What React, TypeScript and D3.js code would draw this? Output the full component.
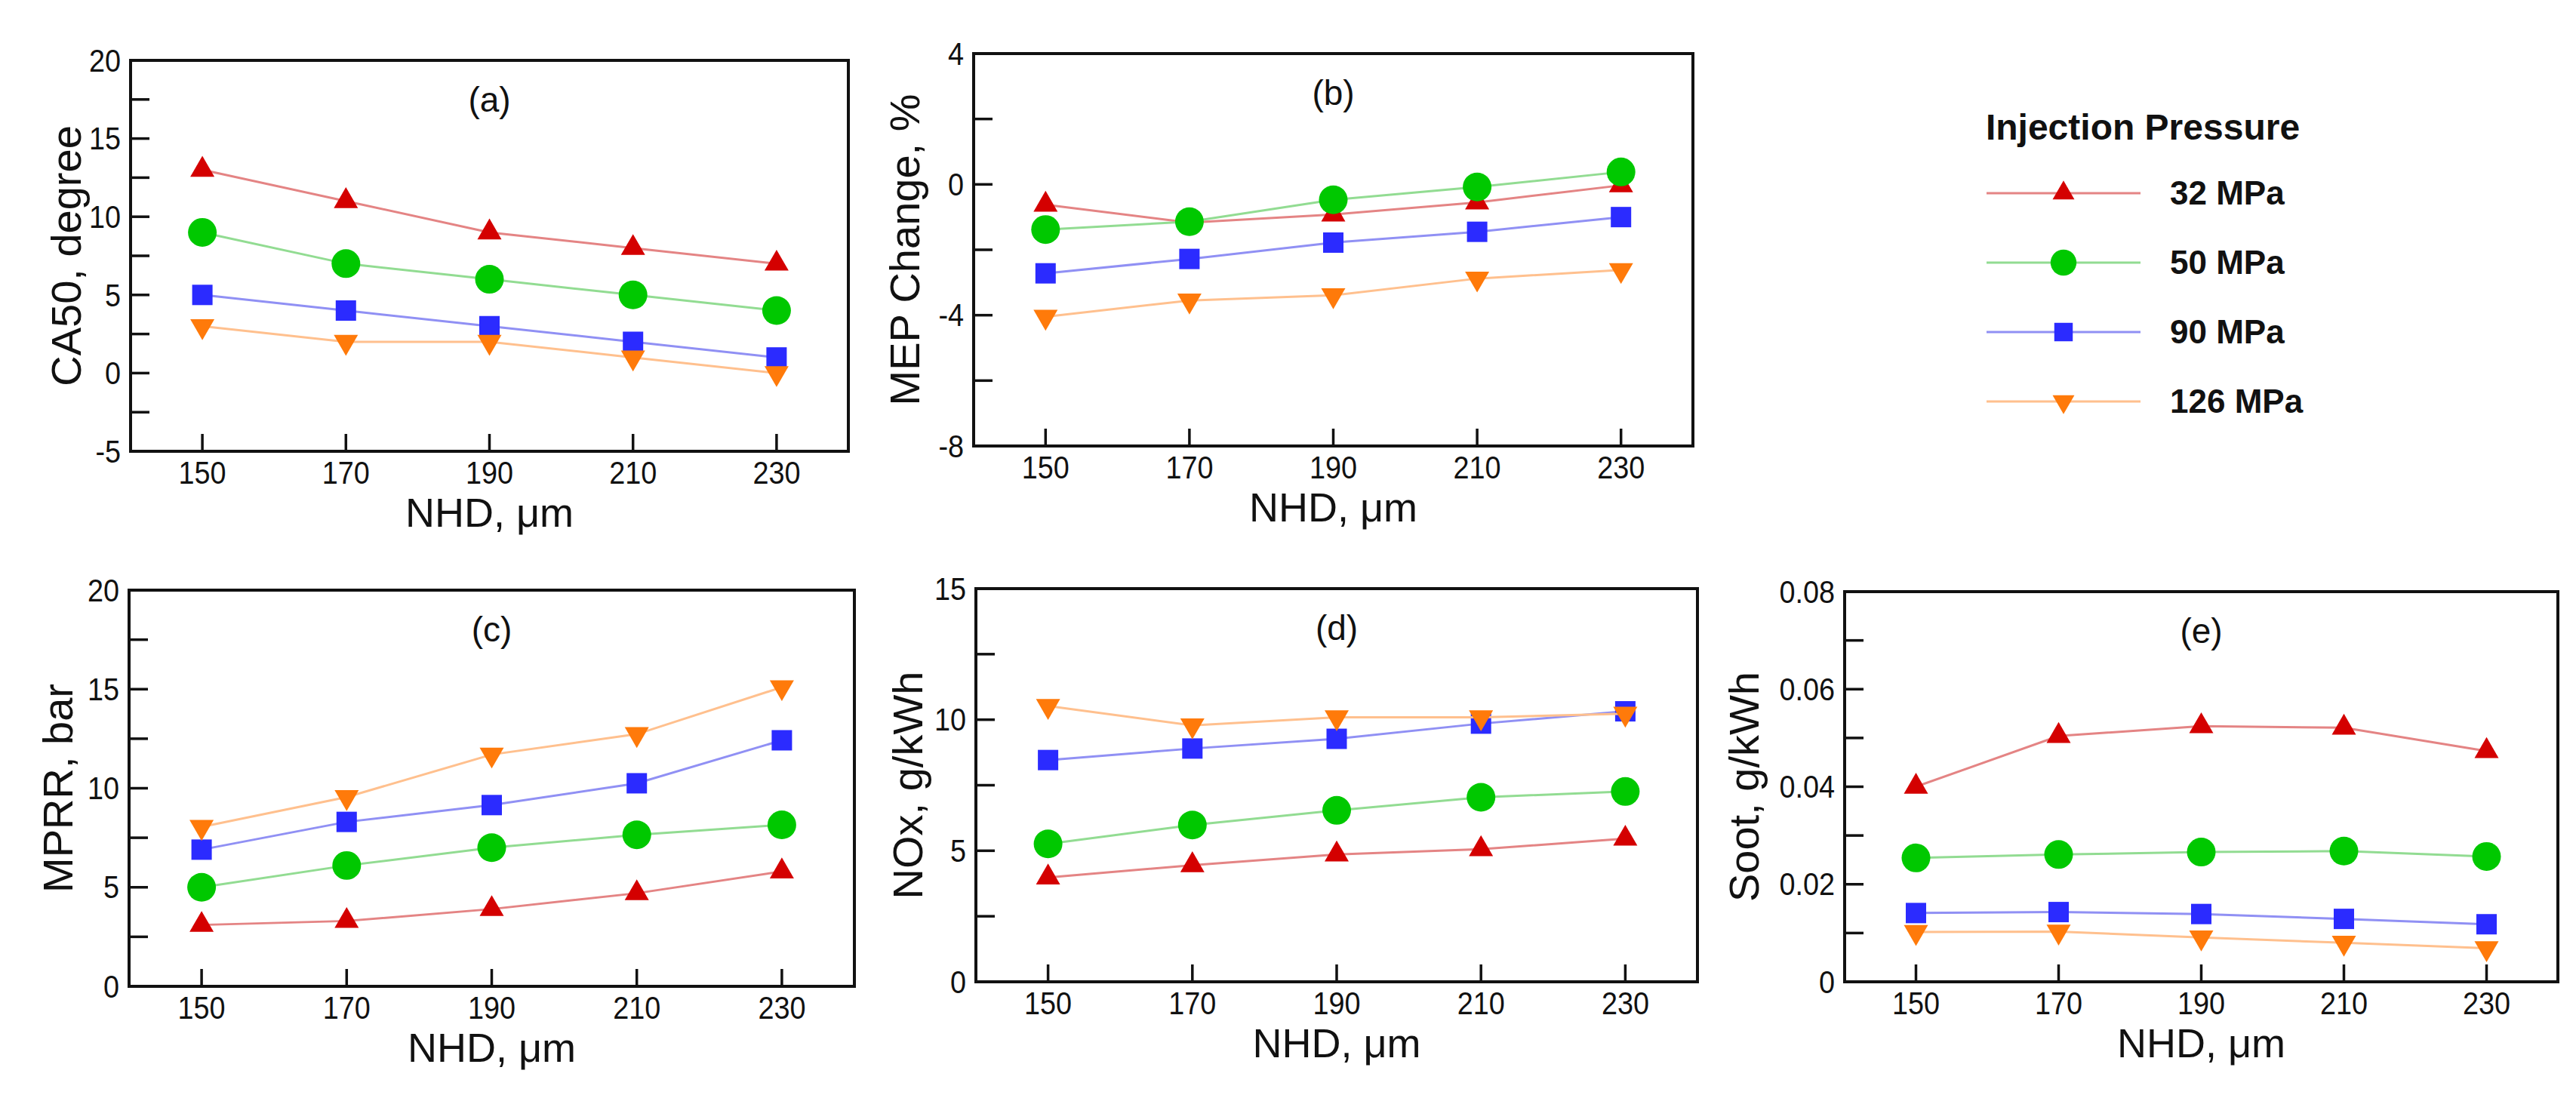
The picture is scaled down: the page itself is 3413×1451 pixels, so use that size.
import * as d3 from 'd3';

// NHD (nozzle hole diameter) positions, µm
const nhd = [150, 170, 190, 210, 230];
const pressures = ['32 MPa', '50 MPa', '90 MPa', '126 MPa'];

// values per pressure: 32, 50, 90, 126 MPa
const ca50Values = [
  [13, 11, 9, 8, 7],
  [9, 7, 6, 5, 4],
  [5, 4, 3, 2, 1],
  [3, 2, 2, 1, 0],
];
const mepValues = [
  [-0.62, -1.17, -0.92, -0.55, -0.03],
  [-1.38, -1.14, -0.47, -0.08, 0.38],
  [-2.72, -2.28, -1.78, -1.45, -1.0],
  [-4.05, -3.55, -3.39, -2.88, -2.62],
];
const mprrValues = [
  [3.1, 3.3, 3.9, 4.7, 5.8],
  [5.0, 6.1, 7.0, 7.65, 8.15],
  [6.9, 8.3, 9.15, 10.25, 12.42],
  [8.05, 9.55, 11.7, 12.73, 15.1],
];
const noxValues = [
  [3.98, 4.45, 4.86, 5.06, 5.46],
  [5.26, 5.98, 6.54, 7.04, 7.26],
  [8.46, 8.9, 9.27, 9.85, 10.32],
  [10.52, 9.78, 10.09, 10.09, 10.23],
];
const sootValues = [
  [0.04, 0.0504, 0.0524, 0.0521, 0.0473],
  [0.0254, 0.0261, 0.0266, 0.0268, 0.0257],
  [0.0141, 0.0143, 0.0139, 0.0129, 0.0118],
  [0.0102, 0.0103, 0.0091, 0.008, 0.0069],
];

// y tick labels
const ca50Ticks = [-5, 0, 5, 10, 15, 20];
const mepTicks = [-8, -4, 0, 4];
const mprrTicks = [0, 5, 10, 15, 20];
const noxTicks = [0, 5, 10, 15];
const sootTicks = [0, 0.02, 0.04, 0.06, 0.08];

const markerFill = ['#d40000', '#00c800', '#2b2bff', '#ff7a0a'];
const lineStroke = ['#e48484', '#92dc92', '#9090f4', '#ffc08e'];
const symbols = [d3.symbolTriangle, d3.symbolCircle, d3.symbolSquare, d3.symbolTriangle];
const symbolSizes = [443, 1134, 729, 443];
const symbolRotate = [0, 0, 0, 180];

const FONT = 'Arial, "Liberation Sans", Helvetica, sans-serif';

const panels = [
  { label: '(a)', title: 'CA50, degree', values: ca50Values, ticks: ca50Ticks, fmt: (v: number) => String(v), L: 173, R: 1124, T: 80, B: 598, off: 66 },
  { label: '(b)', title: 'MEP Change, %', values: mepValues, ticks: mepTicks, fmt: (v: number) => String(v), L: 1290, R: 2243, T: 71, B: 591, off: 72 },
  { label: '(c)', title: 'MPRR, bar', values: mprrValues, ticks: mprrTicks, fmt: (v: number) => String(v), L: 171, R: 1132, T: 782, B: 1307, off: 75 },
  { label: '(d)', title: 'NOx, g/kWh', values: noxValues, ticks: noxTicks, fmt: (v: number) => String(v), L: 1293, R: 2249, T: 780, B: 1301, off: 71 },
  { label: '(e)', title: 'Soot, g/kWh', values: sootValues, ticks: sootTicks, fmt: (v: number) => (v === 0 ? '0' : v.toFixed(2)), L: 2444, R: 3389, T: 784, B: 1301, off: 114 },
];

function Panel({ p }: { p: (typeof panels)[number] }) {
  const x = d3.scaleLinear().domain([140, 240]).range([p.L, p.R]);
  const y = d3
    .scaleLinear()
    .domain([p.ticks[0], p.ticks[p.ticks.length - 1]])
    .range([p.B, p.T]);
  const minorTicks = p.ticks.slice(1).map((t, i) => (t + p.ticks[i]) / 2);
  const allYTicks = [...p.ticks, ...minorTicks];
  const line = d3
    .line<number>()
    .x((_, i) => x(nhd[i]))
    .y((d) => y(d));

  return (
    <g>
      {/* y ticks point inward */}
      {allYTicks.map((t) => (
        <line key={'yt' + t} x1={p.L} x2={p.L + 25} y1={y(t)} y2={y(t)} stroke="#111" strokeWidth={3.5} />
      ))}
      {p.ticks.map((t) => (
        <text
          key={'yl' + t}
          transform={`translate(${p.L - 13},${y(t)}) scale(0.9,1)`}
          textAnchor="end"
          dominantBaseline="central"
          fontSize={42}
          fontFamily={FONT}
          fill="#111"
        >
          {p.fmt(t)}
        </text>
      ))}
      {/* x ticks */}
      {nhd.map((v) => (
        <g key={'xt' + v}>
          <line x1={x(v)} x2={x(v)} y1={p.B} y2={p.B - 23} stroke="#111" strokeWidth={3.5} />
          <text
            transform={`translate(${x(v)},${p.B + 43}) scale(0.9,1)`}
            textAnchor="middle"
            fontSize={42}
            fontFamily={FONT}
            fill="#111"
          >
            {v}
          </text>
        </g>
      ))}
      {/* series */}
      {p.values.map((vals, s) => (
        <g key={'s' + s}>
          <path d={line(vals) || ''} fill="none" stroke={lineStroke[s]} strokeWidth={3} />
          {vals.map((v, i) => (
            <path
              key={i}
              d={d3.symbol(symbols[s], symbolSizes[s])() || ''}
              transform={`translate(${x(nhd[i])},${y(v)}) rotate(${symbolRotate[s]})`}
              fill={markerFill[s]}
            />
          ))}
        </g>
      ))}
      {/* frame */}
      <rect x={p.L} y={p.T} width={p.R - p.L} height={p.B - p.T} fill="none" stroke="#111" strokeWidth={4} />
      <text x={(p.L + p.R) / 2} y={p.T + 68} textAnchor="middle" fontSize={46} fontFamily={FONT} fill="#111">
        {p.label}
      </text>
      <text x={(p.L + p.R) / 2} y={p.B + 100} textAnchor="middle" fontSize={54} fontFamily={FONT} fill="#111">
        NHD, μm
      </text>
      <text
        transform={`translate(${p.L - p.off},${(p.T + p.B) / 2}) rotate(-90)`}
        textAnchor="middle"
        fontSize={56}
        fontFamily={FONT}
        fill="#111"
      >
        {p.title}
      </text>
    </g>
  );
}

function Legend() {
  const rowY = d3.scalePoint<string>().domain(pressures).range([256, 532]);
  return (
    <g>
      <text x={2839} y={185} textAnchor="middle" fontSize={48} fontWeight="bold" fontFamily={FONT} fill="#111">
        Injection Pressure
      </text>
      {pressures.map((name, s) => {
        const yy = rowY(name) as number;
        return (
          <g key={name}>
            <line x1={2632} x2={2836} y1={yy} y2={yy} stroke={lineStroke[s]} strokeWidth={3} />
            <path
              d={d3.symbol(symbols[s], symbolSizes[s] * 0.82)() || ''}
              transform={`translate(2734,${yy}) rotate(${symbolRotate[s]})`}
              fill={markerFill[s]}
            />
            <text x={2875} y={yy + 15} fontSize={44} fontWeight="bold" fontFamily={FONT} fill="#111">
              {name}
            </text>
          </g>
        );
      })}
    </g>
  );
}

export default function App() {
  return (
    <svg
      width={3413}
      height={1451}
      style={{ position: 'absolute', left: 0, top: 0, background: '#fff' }}
    >
      <rect width={3413} height={1451} fill="#fff" />
      {panels.map((p) => (
        <Panel key={p.label} p={p} />
      ))}
      <Legend />
    </svg>
  );
}
